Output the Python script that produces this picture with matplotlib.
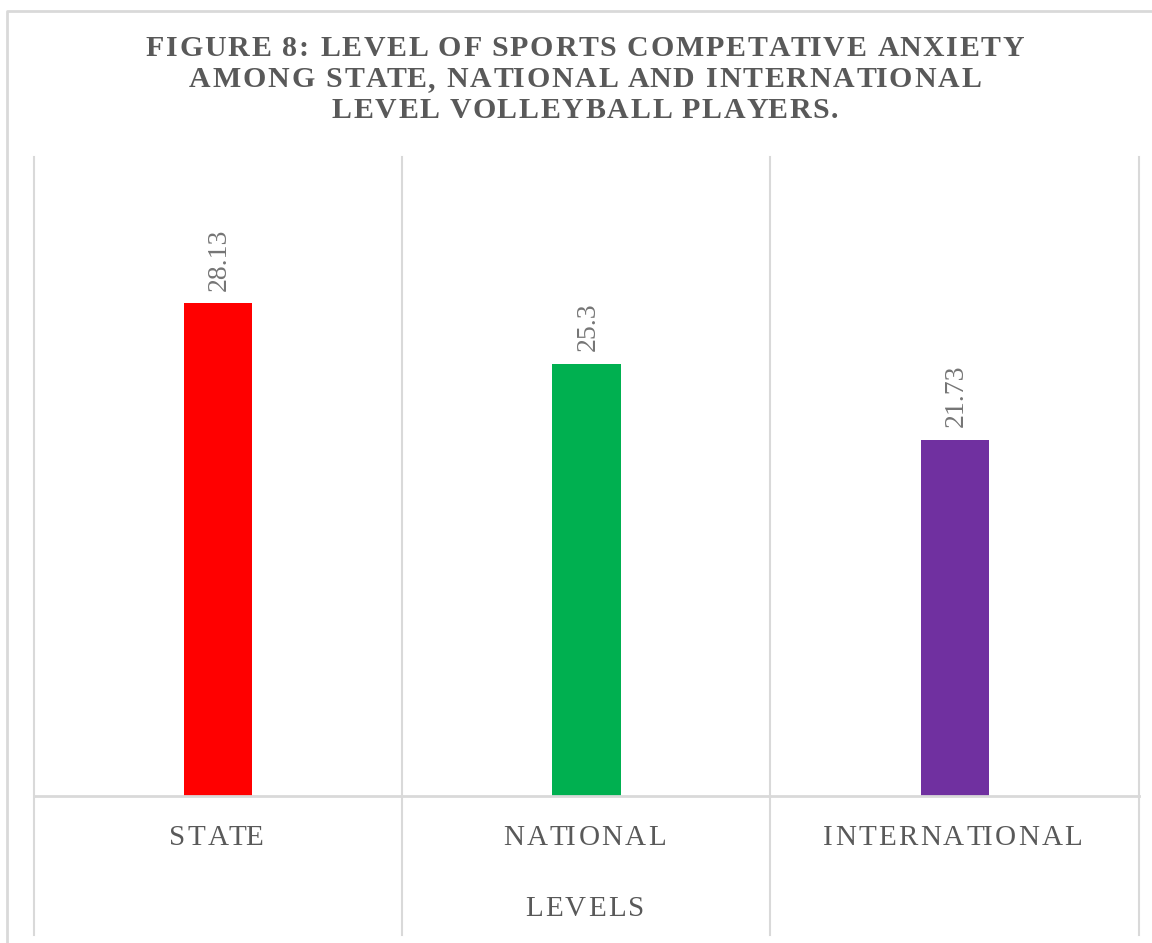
import matplotlib
matplotlib.use("Agg")
import matplotlib.pyplot as plt
from matplotlib.lines import Line2D
from matplotlib.font_manager import FontProperties

# data
levels = ["STATE", "NATIONAL", "INTERNATIONAL"]
scores = [28.13, 25.3, 21.73]
bar_colors = ["#FF0000", "#00B050", "#7030A0"]
value_labels = ["28.13", "25.3", "21.73"]
x_title = "LEVELS"
title_lines = ["FIGURE 8: LEVEL OF SPORTS COMPETATIVE ANXIETY",
               "AMONG STATE, NATIONAL AND INTERNATIONAL",
               "LEVEL VOLLEYBALL PLAYERS."]

plt.rcParams['font.family'] = ['Liberation Serif', 'DejaVu Serif']
grey = "#595959"
line_grey = "#D9D9D9"

fig = plt.figure(figsize=(11.52, 9.43), dpi=100)
W, H = 1152, 943
renderer = fig.canvas.get_renderer()


def fx(x):
    return x / W


def fy(y):
    return 1 - y / H


def advance(s, fp):
    # width of s up to where the next glyph would start
    w_ref = renderer.get_text_width_height_descent("I", fp, ismath=False)[0]
    w = renderer.get_text_width_height_descent(s + "I", fp, ismath=False)[0]
    return w - w_ref


def spaced_text(xc, y_base, s, size, spacing, weight="normal"):
    # letter-spaced text, centred on xc (pixels), baseline at y_base (pixels from top)
    fp = FontProperties(family="Liberation Serif", size=size, weight=weight)
    total = advance(s, fp) + spacing * (len(s) - 1)
    x0 = xc - total / 2
    for i, ch in enumerate(s):
        if ch == " ":
            continue
        xi = x0 + (advance(s[:i], fp) if i else 0) + spacing * i
        fig.text(fx(xi), fy(y_base), ch, fontproperties=fp, color=grey,
                 ha="left", va="baseline")


# plot area
left, right, top, bottom = 34, 1139, 157, 796
ax = fig.add_axes([fx(left), fy(bottom), fx(right - left), fy(top) - fy(bottom)])

x = list(range(len(levels)))
bars = ax.bar(x, scores, width=0.185, color=bar_colors, zorder=3)
ax.set_xlim(-0.5, len(levels) - 0.5)
ax.set_ylim(5, 35)

for b, lab in zip(bars, value_labels):
    ax.annotate(lab, (b.get_x() + b.get_width() / 2, b.get_height()),
                xytext=(1, 9), textcoords="offset points",
                rotation=90, ha="center", va="bottom",
                fontsize=20, color="#757575")

for s in ax.spines.values():
    s.set_visible(False)
ax.set_yticks([])
ax.set_xticks([])

# category labels with letter spacing, placed at the bar centres
fig.canvas.draw()
for i, lab in enumerate(levels):
    px = ax.transData.transform((i, 5))[0]
    spaced_text(px - 2, 845, lab, 21, 2.2)
spaced_text(ax.transData.transform((1, 5))[0] - 2, 916, x_title, 21, 2.2)

# axis line and category separators (run below the axis like the source)
fig.add_artist(Line2D([fx(left), fx(right)], [fy(bottom), fy(bottom)],
                      color=line_grey, lw=2))
for xs in [34, 402, 770, 1139]:
    fig.add_artist(Line2D([fx(xs), fx(xs)], [fy(top), fy(935)],
                          color=line_grey, lw=1.5))

# outer chart border (cropped at right and bottom)
fig.add_artist(Line2D([fx(7), fx(7), fx(1152)], [fy(943), fy(11), fy(11)],
                      color=line_grey, lw=2))

for k, line in enumerate(title_lines):
    spaced_text(W / 2 + 9, 56 + 31 * k, line, 21.5, 1.8, weight="bold")

fig.savefig("out.png", dpi=100)
